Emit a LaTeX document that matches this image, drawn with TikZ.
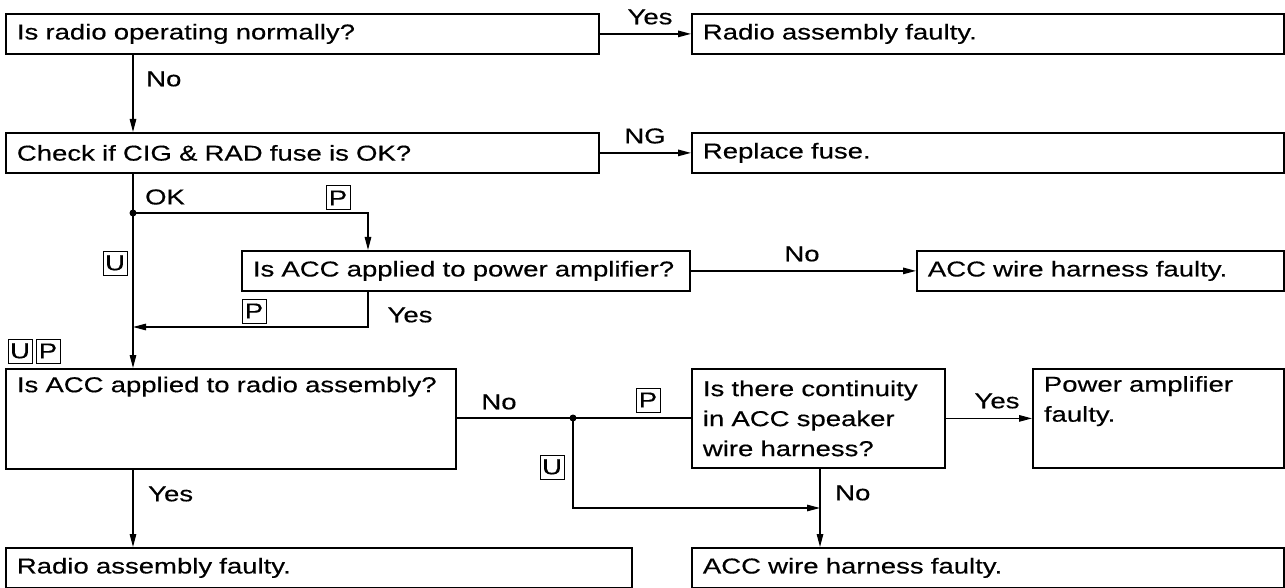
\documentclass[tikz,border=0pt]{standalone}
\usepackage{fontspec}
\setmainfont[FakeStretch=1.28,FakeBold=0.4]{Liberation Sans}
\usetikzlibrary{arrows.meta}
\hbadness=10000 \hfuzz=50pt
\begin{document}
\begin{tikzpicture}[x=1pt,y=-1pt,
  font=\fontsize{21.5}{30}\selectfont,
  box/.style={draw, line width=1.8pt, anchor=north west, align=left, inner xsep=11pt, inner ysep=0pt},
  conn/.style={line width=1.3pt},
  arr/.style={conn, -{Triangle[length=13pt,width=6.5pt]}},
  tag/.style={draw, line width=1pt, inner sep=0pt, minimum width=24pt, minimum height=24pt},
  lbl/.style={inner sep=0pt},
  dotc/.style={circle, fill, inner sep=0pt, minimum size=7pt}
]
\useasboundingbox (0,0) rectangle (1285,588);
% boxes
\node[box, text width=571pt, minimum height=40pt] (b1) at (5,13) {Is radio operating normally?};
\node[box, text width=570pt, minimum height=40pt] (r1) at (691,13) {Radio assembly faulty.};
\node[box, text width=571pt, minimum height=40pt] (b2) at (5,132) {Check if CIG \& RAD fuse is OK?};
\node[box, text width=570pt, minimum height=40pt] (r2) at (691,132) {Replace fuse.};
\node[box, text width=426pt, minimum height=40pt] (b3) at (241,250) {\mbox{Is ACC applied to power amplifier?}};
\node[box, text width=345pt, minimum height=40pt] (r3) at (916,250) {ACC wire harness faulty.};
\node[box, text width=428pt, minimum height=100pt] (b4) at (5,368) {\mbox{Is ACC applied to radio assembly?}\\ \strut\\ \strut};
\node[box, text width=231pt, minimum height=99pt] (b5) at (691,368) {Is there continuity\\in ACC speaker\\wire harness?};
\node[box, text width=229pt, minimum height=99pt] (b6) at (1032,368) {Power amplifier\\faulty.\\ \strut};
\node[box, text width=604pt, minimum height=40pt] (b7) at (5,547) {Radio assembly faulty.};
\node[box, text width=570pt, minimum height=40pt] (b8) at (691,547) {ACC wire harness faulty.};
% junctions
\node[dotc] (d1) at (133,213) {};
\node[dotc] (d2) at (573,418) {};
\coordinate (k1) at (368,213);
\coordinate (k2) at (368,327);
\coordinate (k3) at (133,327);
\coordinate (k4) at (573,508);
\coordinate (k5) at (820,508);
% connectors
\draw[arr] (b1) -- (r1);
\draw[arr] (b2) -- (r2);
\draw[arr] (b3) -- (r3);
\draw[arr] (b5) -- (b6);
\draw[arr] (b1.south west -| d1) -- (b2.north west -| d1);
\draw[conn] (b2.south west -| d1) -- (d1.center);
\draw[arr] (d1.center) -- (b4.north west -| d1);
\draw[arr] (d1.center) -- (k1) -- (b3.north west -| k1);
\draw[arr] (b3.south west -| k2) -- (k2) -- (k3);
\draw[conn] (b4.east |- d2) -- (d2.center) -- (b5.west |- d2);
\draw[arr] (d2.center) -- (k4) -- (k5);
\draw[arr] (b5.south west -| k5) -- (b8.north west -| k5);
\draw[arr] (b4.south west -| d1) -- (b7.north west -| d1);
% labels
\node[lbl] at (650,17) {Yes};
\node[lbl] at (645,136) {NG};
\node[lbl, anchor=west] at (146,79) {No};
\node[lbl] at (165,197) {OK};
\node[tag] (t1) at (338,198) {P};
\node[tag] (t2) at (115,263) {U};
\node[lbl] at (802,254) {No};
\node[tag] (t3) at (254,311) {P};
\node[lbl] at (410,315) {Yes};
\node[tag] (t4) at (20,351) {U};
\node[tag] (t5) at (48,351) {P};
\node[lbl] at (499,402) {No};
\node[tag] (t6) at (648,400) {P};
\node[lbl] at (997,401) {Yes};
\node[tag] (t7) at (552,467) {U};
\node[lbl, anchor=west] at (835,493) {No};
\node[lbl, anchor=west] at (148,494) {Yes};
\end{tikzpicture}
\end{document}
